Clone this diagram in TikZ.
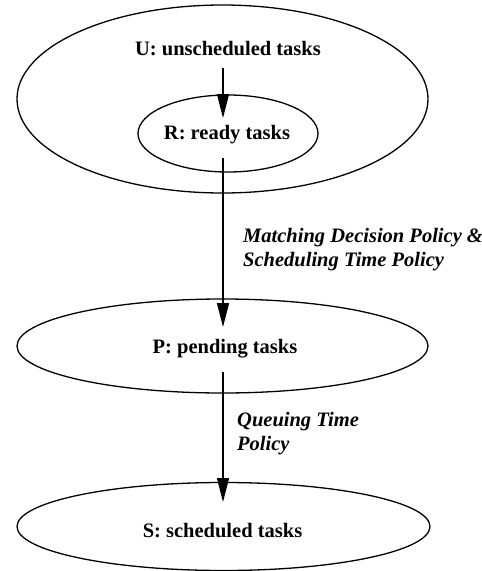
\documentclass[tikz,border=0pt]{standalone}
\usepackage{fontspec}
\setmainfont{Liberation Serif}
\usetikzlibrary{arrows.meta}
\begin{document}
\begin{tikzpicture}[x=1pt,y=-1pt,
  outline/.style={line width=1.3pt},
  conn/.style={line width=1.3pt,-{Triangle[length=24pt,width=12pt]}},
  settext/.style={font=\fontsize{20.5}{24}\selectfont\bfseries, inner sep=0pt},
  pol/.style={font=\fontsize{20.5}{24}\selectfont\bfseries\itshape, inner sep=0pt, align=left, anchor=west}]
\useasboundingbox (0,0) rectangle (482,571);
% ellipses
\draw[outline] (222.5,99) ellipse (205.5 and 94);
\draw[outline] (228,133.5) ellipse (90 and 38.5);
\draw[outline] (222.5,346) ellipse (205.5 and 47);
\draw[outline] (223.5,526.5) ellipse (206.5 and 44);
% texts
\node[settext] (u) at (228,49) {U: unscheduled tasks};
\node[settext] (r) at (227,135) {R: ready tasks};
\node[settext] (p) at (225,349) {P: pending tasks};
\node[settext] (s) at (222.5,531) {S: scheduled tasks};
\node[pol] (l1) at (243,250) {Matching Decision Policy \&\\Scheduling Time Policy};
\node[pol] (l2) at (237,434) {Queuing Time\\Policy};
% connector ends
\coordinate (a1s) at (223,68);
\coordinate (a1e) at (223,118);
\coordinate (a2s) at (223,158);
\coordinate (a2e) at (223,327);
\coordinate (a3s) at (223,372);
\coordinate (a3e) at (223,502);
\draw[conn] (a1s) -- (a1e);
\draw[conn] (a2s) -- (a2e);
\draw[conn] (a3s) -- (a3e);
\end{tikzpicture}
\end{document}
